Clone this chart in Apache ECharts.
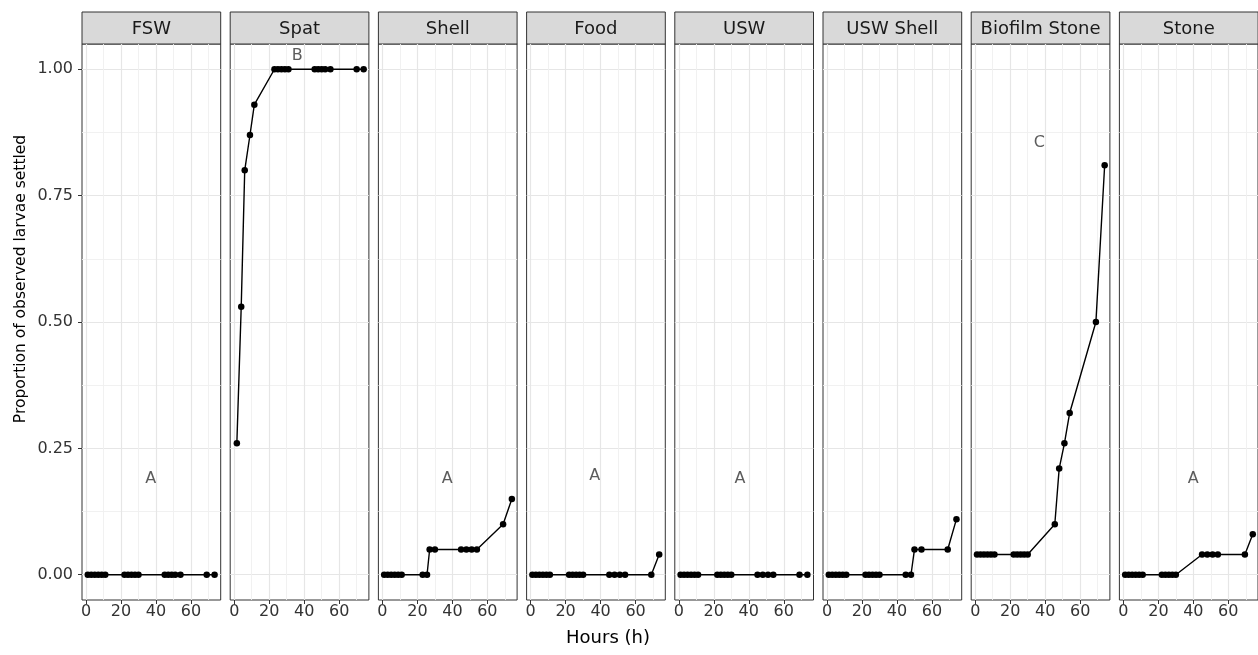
<!DOCTYPE html>
<html><head><meta charset="utf-8">
<script src="https://cdn.jsdelivr.net/npm/echarts@6/dist/echarts.min.js"></script>
<style>html,body{margin:0;padding:0;background:#fff}#c{width:1258px;height:655px}</style>
</head><body><div id="c"></div>
<script>
// ---- data ----
const panels = ['FSW', 'Spat', 'Shell', 'Food', 'USW', 'USW Shell', 'Biofilm Stone', 'Stone'];

const hoursFSW = [1, 3, 5, 7, 9, 11, 22, 24, 26, 28, 30, 45, 47, 49, 51, 54, 69, 73.5];
const valsFSW  = [0, 0, 0, 0, 0, 0, 0, 0, 0, 0, 0, 0, 0, 0, 0, 0, 0, 0];

const hoursSpat = [1.5, 4, 6, 9, 11.5, 23, 25, 27, 29, 31, 46, 48, 50, 52, 55, 70, 74];
const valsSpat  = [0.26, 0.53, 0.80, 0.87, 0.93, 1, 1, 1, 1, 1, 1, 1, 1, 1, 1, 1, 1];

const hoursShell = [1, 3, 5, 7, 9, 11, 23, 25.5, 27, 30, 45, 48, 51, 54, 69, 74];
const valsShell  = [0, 0, 0, 0, 0, 0, 0, 0, 0.05, 0.05, 0.05, 0.05, 0.05, 0.05, 0.10, 0.15];

const hoursFood = [1, 3, 5, 7, 9, 11, 22, 24, 26, 28, 30, 45, 48, 51, 54, 69, 73.5];
const valsFood  = [0, 0, 0, 0, 0, 0, 0, 0, 0, 0, 0, 0, 0, 0, 0, 0, 0.04];

const hoursUSW = [1, 3, 5, 7, 9, 11, 22, 24, 26, 28, 30, 45, 48, 51, 54, 69, 73.5];
const valsUSW  = [0, 0, 0, 0, 0, 0, 0, 0, 0, 0, 0, 0, 0, 0, 0, 0, 0];

const hoursUSWShell = [1, 3, 5, 7, 9, 11, 22, 24, 26, 28, 30, 45, 48, 50, 54, 69, 74];
const valsUSWShell  = [0, 0, 0, 0, 0, 0, 0, 0, 0, 0, 0, 0, 0, 0.05, 0.05, 0.05, 0.11];

const hoursBiofilm = [1, 3, 5, 7, 9, 11, 22, 24, 26, 28, 30, 45.5, 48, 51, 54, 69, 74];
const valsBiofilm  = [0.04, 0.04, 0.04, 0.04, 0.04, 0.04, 0.04, 0.04, 0.04, 0.04, 0.04, 0.10, 0.21, 0.26, 0.32, 0.50, 0.81];

const hoursStone = [1, 3, 5, 7, 9, 11, 22, 24, 26, 28, 30, 45, 48, 51, 54, 69.5, 74];
const valsStone  = [0, 0, 0, 0, 0, 0, 0, 0, 0, 0, 0, 0.04, 0.04, 0.04, 0.04, 0.04, 0.08];

const panelHours = [hoursFSW, hoursSpat, hoursShell, hoursFood, hoursUSW, hoursUSWShell, hoursBiofilm, hoursStone];
const panelVals  = [valsFSW, valsSpat, valsShell, valsFood, valsUSW, valsUSWShell, valsBiofilm, valsStone];

const letters = ['A', 'B', 'A', 'A', 'A', '', 'C', 'A'];
const letterX = [37, 36, 37, 36.7, 35, 0, 36.7, 40];
const letterY = [0.19, 1.026, 0.19, 0.195, 0.19, 0, 0.854, 0.19];

const xTicks = [0, 20, 40, 60];
const xMinor = [10, 30, 50, 70];
const yTicks = [0, 0.25, 0.5, 0.75, 1];
const yMinor = [0.125, 0.375, 0.625, 0.875];

const xTitle = 'Hours (h)';
const yTitle = 'Proportion of observed larvae settled';

// ---- layout ----
const FONT = 'DejaVu Sans';
const P_LEFT = 82, P_STEP = 148.2, P_W = 138.7, P_TOP = 44, P_H = 556;
const S_TOP = 12;
const X_MIN = -2.3, X_MAX = 77, Y_MIN = -0.05, Y_MAX = 1.05;

const grids = [], xAxes = [], yAxes = [], series = [], graphics = [];
panels.forEach((name, i) => {
  const left = P_LEFT + i * P_STEP;
  grids.push({ left: left, top: P_TOP, width: P_W, height: P_H, show: true,
    borderColor: '#333333', borderWidth: 1, backgroundColor: '#ffffff', containLabel: false });
  xAxes.push({ type: 'value', gridIndex: i, min: X_MIN, max: X_MAX, position: 'bottom',
    axisLine: { show: false, onZero: false },
    axisTick: { show: true, length: 4, customValues: xTicks, lineStyle: { color: '#333333', width: 1 } },
    axisLabel: { show: true, customValues: xTicks, margin: 4, color: '#333333', fontSize: 16, fontFamily: FONT },
    splitLine: { show: true, lineStyle: { color: '#e6e6e6', width: 1.2 } } });
  xAxes.push({ type: 'value', gridIndex: i, min: X_MIN, max: X_MAX, position: 'bottom',
    axisLine: { show: false, onZero: false },
    axisTick: { show: false, customValues: xMinor },
    axisLabel: { show: false },
    splitLine: { show: true, lineStyle: { color: '#efefef', width: 0.9 } } });
  yAxes.push({ type: 'value', gridIndex: i, min: Y_MIN, max: Y_MAX,
    axisLine: { show: false, onZero: false },
    axisTick: { show: i === 0, length: 4, customValues: yTicks, lineStyle: { color: '#333333', width: 1 } },
    axisLabel: { show: i === 0, customValues: yTicks, margin: 9, color: '#333333', fontSize: 16, fontFamily: FONT,
      formatter: v => v.toFixed(2) },
    splitLine: { show: true, lineStyle: { color: '#e6e6e6', width: 1.2 } } });
  yAxes.push({ type: 'value', gridIndex: i, min: Y_MIN, max: Y_MAX,
    axisLine: { show: false, onZero: false },
    axisTick: { show: false, customValues: yMinor },
    axisLabel: { show: false },
    splitLine: { show: true, lineStyle: { color: '#efefef', width: 0.9 } } });

  const hrs = panelHours[i], vals = panelVals[i];
  series.push({ type: 'line', xAxisIndex: 2 * i, yAxisIndex: 2 * i,
    data: hrs.map((h, k) => [h, vals[k]]),
    symbol: 'circle', symbolSize: 6.5, showSymbol: true,
    lineStyle: { color: '#000000', width: 1.4 }, itemStyle: { color: '#000000' },
    silent: true, z: 3 });
  if (letters[i]) {
    series.push({ type: 'scatter', xAxisIndex: 2 * i, yAxisIndex: 2 * i,
      data: [[letterX[i], letterY[i], letters[i]]],
      symbol: 'circle', symbolSize: 1, itemStyle: { color: 'rgba(0,0,0,0)' },
      label: { show: true, position: 'inside', formatter: p => p.value[2],
        color: '#333333', fontSize: 16, fontFamily: FONT }, silent: true, z: 4 });
  }
  graphics.push({ type: 'rect', shape: { x: left, y: S_TOP, width: P_W, height: P_TOP - S_TOP },
    style: { fill: '#d9d9d9', stroke: '#333333', lineWidth: 1 }, silent: true });
  graphics.push({ type: 'text', x: left + P_W / 2, y: S_TOP + (P_TOP - S_TOP) / 2 + 1,
    style: { text: name, fill: '#1a1a1a', font: '18px "' + FONT + '"', align: 'center', verticalAlign: 'middle' }, silent: true });
});

graphics.push({ type: 'text', x: 608, y: 638,
  style: { text: xTitle, fill: '#000000', font: '18px "' + FONT + '"', align: 'center', verticalAlign: 'middle' } });
graphics.push({ type: 'text', x: 21, y: 279, rotation: Math.PI / 2,
  style: { text: yTitle, fill: '#000000', font: '15.5px "' + FONT + '"', align: 'center', verticalAlign: 'middle' } });

const chart = echarts.init(document.getElementById('c'), null, { renderer: 'canvas' });
chart.setOption({
  animation: false,
  backgroundColor: '#ffffff',
  grid: grids, xAxis: xAxes, yAxis: yAxes, series: series, graphic: graphics
});
</script></body></html>
